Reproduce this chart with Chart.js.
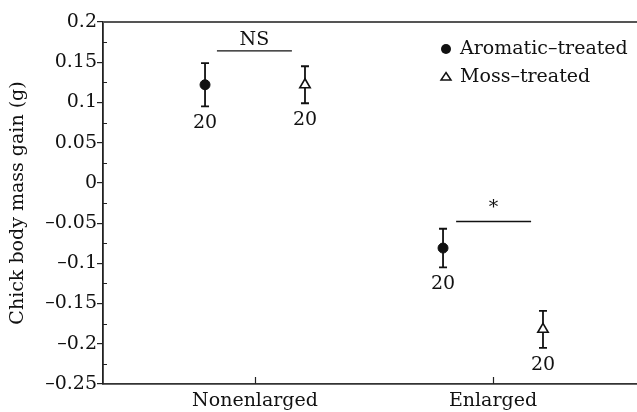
<!DOCTYPE html>
<html>
<head>
<meta charset="utf-8">
<script src="https://cdn.jsdelivr.net/npm/chart.js@4.4.1/dist/chart.umd.min.js"></script>
<style>
  html, body { margin: 0; padding: 0; background: #fff; }
</style>
</head>
<body>
<canvas id="myChart" width="637" height="412"></canvas>
<script>
// data
const categories = ['Nonenlarged', 'Enlarged'];
const aromaticMean = [0.122, -0.081];
const aromaticErr = [0.027, 0.024];
const mossMean = [0.122, -0.182];
const mossErr = [0.023, 0.023];
const sampleSize = [20, 20];
const seriesNames = ['Aromatic\u2013treated', 'Moss\u2013treated'];

// significance marks: label, x range (category units), height (g)
const sigLabels = ['NS', '*'];
const sigFrom = [0.84, 1.845];
const sigTo = [1.155, 2.16];
const sigY = [0.164, -0.048];

const FONT = 'DejaVu Serif';
const offset = 0.21; // horizontal dodge of the two series

Chart.defaults.font.family = FONT;
Chart.defaults.font.size = 19;
Chart.defaults.color = '#111';

const toPoints = (means, errs, dx) => means.map((m, i) => ({ x: i + 1 + dx, y: m, err: errs[i], n: sampleSize[i] }));

// error bars, n labels, significance lines, legend, extra ticks
const extras = {
    id: 'extras',
    beforeDatasetsDraw(chart) {
        const ctx = chart.ctx;
        const xs = chart.scales.x, ys = chart.scales.y;
        ctx.save();
        ctx.strokeStyle = '#111';
        ctx.lineWidth = 1.8;
        chart.data.datasets.forEach(ds => {
            ds.data.forEach(p => {
                const x = xs.getPixelForValue(p.x);
                const t = ys.getPixelForValue(p.y + p.err);
                const b = ys.getPixelForValue(p.y - p.err);
                ctx.beginPath();
                ctx.moveTo(x, t); ctx.lineTo(x, b);
                ctx.moveTo(x - 4, t); ctx.lineTo(x + 4, t);
                ctx.moveTo(x - 4, b); ctx.lineTo(x + 4, b);
                ctx.stroke();
            });
        });
        ctx.restore();
    },
    afterDraw(chart) {
        const ctx = chart.ctx;
        const xs = chart.scales.x, ys = chart.scales.y;
        const area = chart.chartArea;
        ctx.save();

        // top frame line
        ctx.strokeStyle = '#555';
        ctx.lineWidth = 2;
        ctx.beginPath();
        ctx.moveTo(area.left, area.top);
        ctx.lineTo(chart.width, area.top);
        ctx.stroke();

        // minor y ticks (inward) and x ticks (inward)
        ctx.strokeStyle = '#222';
        ctx.lineWidth = 1.2;
        ctx.beginPath();
        for (let v = -0.225; v < 0.2; v += 0.05) {
            const y = Math.round(ys.getPixelForValue(v)) + 0.5;
            ctx.moveTo(area.left, y);
            ctx.lineTo(area.left + 4, y);
        }
        categories.forEach((c, i) => {
            const x = Math.round(xs.getPixelForValue(i + 1)) + 0.5;
            ctx.moveTo(x, area.bottom);
            ctx.lineTo(x, area.bottom - 7);
        });
        ctx.stroke();

        // sample sizes under each bar
        ctx.fillStyle = '#111';
        ctx.font = '19px "' + FONT + '"';
        ctx.textAlign = 'center';
        ctx.textBaseline = 'middle';
        chart.data.datasets.forEach(ds => {
            ds.data.forEach(p => {
                const x = xs.getPixelForValue(p.x);
                const b = ys.getPixelForValue(p.y - p.err);
                ctx.fillText(String(p.n), x, b + 17);
            });
        });

        // significance lines
        ctx.strokeStyle = '#111';
        ctx.lineWidth = 1.3;
        sigLabels.forEach((lab, i) => {
            const x1 = xs.getPixelForValue(sigFrom[i]);
            const x2 = xs.getPixelForValue(sigTo[i]);
            const y = ys.getPixelForValue(sigY[i]);
            ctx.beginPath();
            ctx.moveTo(x1, y); ctx.lineTo(x2, y);
            ctx.stroke();
            ctx.fillText(lab, (x1 + x2) / 2, y - (lab === '*' ? 13 : 11));
        });

        // legend inside plot
        const lx = 446, ly = area.top + 27;
        ctx.textAlign = 'left';
        chart.data.datasets.forEach((ds, i) => {
            const y = ly + i * 28;
            ctx.lineWidth = 1.5;
            ctx.beginPath();
            if (ds.pointStyle === 'circle') {
                ctx.arc(lx, y, 5, 0, Math.PI * 2);
                ctx.fillStyle = '#111';
                ctx.fill();
            } else {
                ctx.moveTo(lx, y - 4.5);
                ctx.lineTo(lx + 5, y + 3);
                ctx.lineTo(lx - 5, y + 3);
                ctx.closePath();
                ctx.fillStyle = '#fff';
                ctx.fill();
                ctx.stroke();
            }
            ctx.fillStyle = '#111';
            ctx.fillText(ds.label, lx + 14, y);
        });
        ctx.restore();
    }
};

const ctx = document.getElementById('myChart').getContext('2d');
new Chart(ctx, {
    type: 'scatter',
    data: {
        datasets: [
            {
                label: seriesNames[0],
                data: toPoints(aromaticMean, aromaticErr, -offset),
                pointStyle: 'circle',
                radius: 5,
                backgroundColor: '#111',
                borderColor: '#111',
                borderWidth: 1
            },
            {
                label: seriesNames[1],
                data: toPoints(mossMean, mossErr, offset),
                pointStyle: 'triangle',
                radius: 6,
                backgroundColor: '#fff',
                borderColor: '#111',
                borderWidth: 1.6
            }
        ]
    },
    options: {
        responsive: false,
        animation: false,
        layout: { autoPadding: false, padding: { top: 22, right: 0, bottom: 0, left: 0 } },
        plugins: {
            legend: { display: false },
            tooltip: { enabled: false }
        },
        scales: {
            x: {
                type: 'linear',
                min: 0.3613,
                max: 2.605,
                afterBuildTicks: scale => {
                    scale.ticks = categories.map((c, i) => ({ value: i + 1 }));
                },
                afterFit: scale => {
                    scale.height = 28;
                    scale.paddingLeft = 0;
                    scale.paddingRight = 0;
                },
                ticks: {
                    autoSkip: false,
                    maxRotation: 0,
                    padding: 6,
                    color: '#111',
                    callback: v => categories[Math.round(v) - 1]
                },
                grid: { display: false, drawTicks: false },
                border: { display: true, color: '#333', width: 1.8 }
            },
            y: {
                min: -0.25,
                max: 0.2,
                afterFit: scale => { scale.width = 103; },
                ticks: {
                    stepSize: 0.05,
                    padding: 0,
                    color: '#111',
                    callback: v => {
                        const r = Number(v.toFixed(2));
                        return r < 0 ? '\u2013' + Math.abs(r) : String(r);
                    }
                },
                grid: { drawOnChartArea: false, drawTicks: true, tickLength: 6, color: '#222', lineWidth: 1.2 },
                border: { display: true, color: '#222', width: 1.8 },
                title: {
                    display: true,
                    text: 'Chick body mass gain (g)',
                    color: '#111',
                    font: { size: 19 },
                    padding: { top: 7, bottom: 0 }
                }
            }
        }
    },
    plugins: [extras]
});
</script>
</body>
</html>
